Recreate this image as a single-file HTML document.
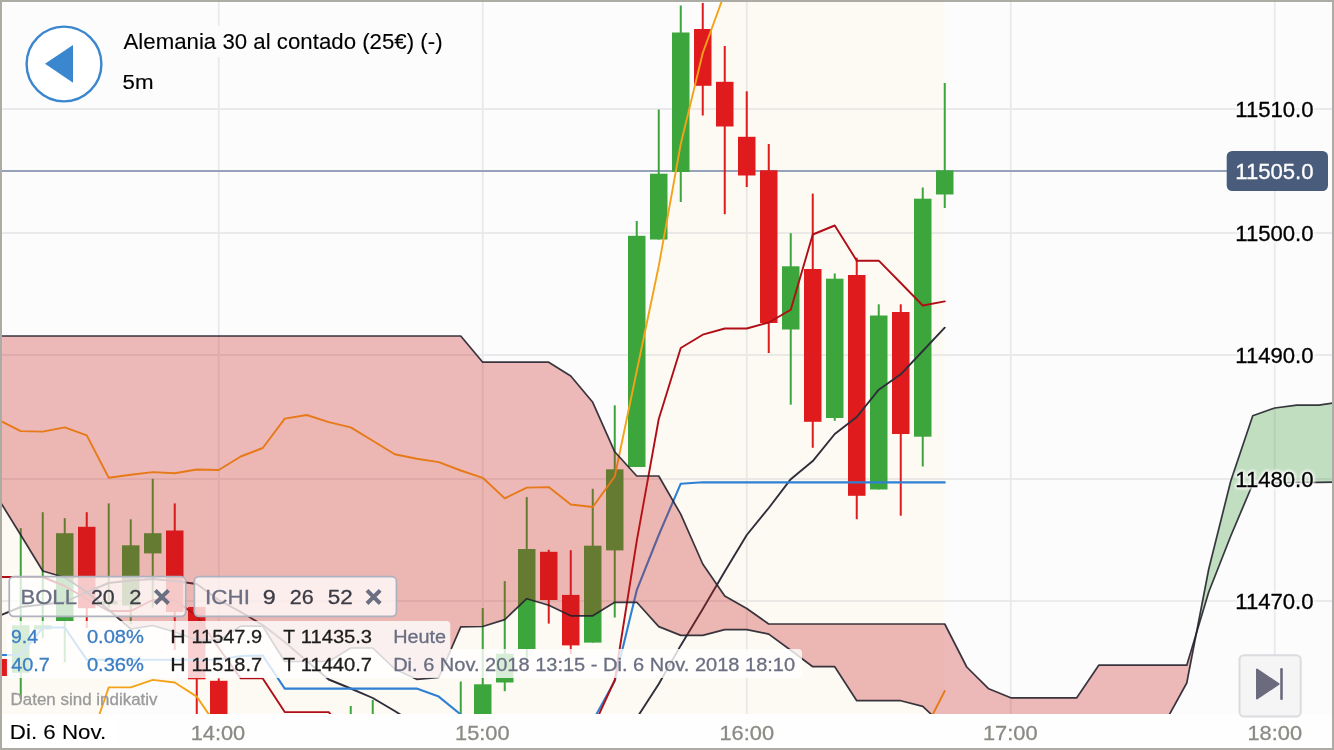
<!DOCTYPE html>
<html><head><meta charset="utf-8"><title>chart</title>
<style>
html,body{margin:0;padding:0;background:#fcfcfc;}
body{width:1334px;height:750px;overflow:hidden;position:relative;font-family:"Liberation Sans",sans-serif;}
svg{position:absolute;left:0;top:0;will-change:transform;}
text{font-family:"Liberation Sans",sans-serif;}
.halo{stroke:#fcfcfc;stroke-width:3.5px;stroke-linejoin:round;}
</style></head><body>
<svg width="1334" height="750" viewBox="0 0 1334 750">
<defs><clipPath id="cc"><rect x="0" y="0" width="1334" height="714"/></clipPath>
<filter id="glow" x="-10%" y="-40%" width="120%" height="180%"><feGaussianBlur stdDeviation="1.6"/></filter></defs>
<rect x="0" y="0" width="1334" height="750" fill="#fcfcfc"/>
<g clip-path="url(#cc)">
<path d="M2.5 748 V2.5 H1332" fill="none" stroke="#ffffff" stroke-width="1"/>
<polygon points="-1.25,420.00 20.75,431.10 42.75,431.60 64.75,427.40 86.75,435.40 108.75,477.70 130.75,474.80 152.75,472.10 174.75,473.20 196.75,469.50 218.75,470.00 240.75,456.50 262.75,448.00 284.75,418.60 306.75,415.00 328.75,422.10 350.75,427.40 372.75,440.80 394.75,454.20 416.75,458.70 438.75,462.10 460.75,470.50 482.75,477.80 504.75,498.40 526.75,487.60 548.75,487.10 570.75,504.50 592.75,507.00 614.75,476.50 636.75,371.00 658.75,266.00 680.75,144.00 702.75,53.00 724.75,-7.00 944.75,-7.00 944.75,691.00 922.75,734.00 218.75,729.00 196.75,696.60 174.75,682.50 152.75,679.90 130.75,687.40 108.75,687.40 86.75,751.00 -1.25,751.00" fill="#fdfaf4"/>
<g opacity="0.068" fill="#0a0a22">
<rect x="0" y="108" width="1334" height="2"/>
<rect x="0" y="232" width="1334" height="2"/>
<rect x="0" y="354" width="1334" height="2"/>
<rect x="0" y="478" width="1334" height="2"/>
<rect x="0" y="600" width="1334" height="2"/>
<rect x="217.75" y="0" width="2" height="714"/>
<rect x="481.75" y="0" width="2" height="714"/>
<rect x="745.75" y="0" width="2" height="714"/>
<rect x="1009.75" y="0" width="2" height="714"/>
<rect x="1273.75" y="0" width="2" height="714"/>
</g>
<rect x="0" y="170" width="1228" height="2" fill="#95a2ba"/>
<rect x="943.75" y="83" width="2" height="125.0" fill="#3ca53c"/>
<rect x="936.00" y="170.4" width="17.5" height="24.1" fill="#3ca53c"/>
<rect x="921.75" y="187.5" width="2" height="279.0" fill="#3ca53c"/>
<rect x="914.00" y="198.7" width="17.5" height="238.0" fill="#3ca53c"/>
<rect x="899.75" y="304.3" width="2" height="211.4" fill="#e01b1e"/>
<rect x="892.00" y="312" width="17.5" height="122.0" fill="#e01b1e"/>
<rect x="877.75" y="304.3" width="2" height="185.2" fill="#3ca53c"/>
<rect x="870.00" y="315.5" width="17.5" height="174.0" fill="#3ca53c"/>
<rect x="855.75" y="257.7" width="2" height="261.5" fill="#e01b1e"/>
<rect x="848.00" y="275" width="17.5" height="220.8" fill="#e01b1e"/>
<rect x="833.75" y="273.5" width="2" height="147.3" fill="#3ca53c"/>
<rect x="826.00" y="278.7" width="17.5" height="139.3" fill="#3ca53c"/>
<rect x="811.75" y="193.6" width="2" height="254.2" fill="#e01b1e"/>
<rect x="804.00" y="269" width="17.5" height="152.8" fill="#e01b1e"/>
<rect x="789.75" y="233.2" width="2" height="171.5" fill="#3ca53c"/>
<rect x="782.00" y="266.3" width="17.5" height="63.2" fill="#3ca53c"/>
<rect x="767.75" y="144" width="2" height="209.0" fill="#e01b1e"/>
<rect x="760.00" y="170.3" width="17.5" height="152.7" fill="#e01b1e"/>
<rect x="745.75" y="91.3" width="2" height="95.7" fill="#e01b1e"/>
<rect x="738.00" y="136.8" width="17.5" height="38.7" fill="#e01b1e"/>
<rect x="723.75" y="46" width="2" height="168.2" fill="#e01b1e"/>
<rect x="716.00" y="81.8" width="17.5" height="44.7" fill="#e01b1e"/>
<rect x="701.75" y="3" width="2" height="112.5" fill="#e01b1e"/>
<rect x="694.00" y="29" width="17.5" height="56.8" fill="#e01b1e"/>
<rect x="679.75" y="5.5" width="2" height="196.5" fill="#3ca53c"/>
<rect x="672.00" y="32.5" width="17.5" height="139.5" fill="#3ca53c"/>
<rect x="657.75" y="109.5" width="2" height="130.0" fill="#3ca53c"/>
<rect x="650.00" y="173.7" width="17.5" height="65.8" fill="#3ca53c"/>
<rect x="635.75" y="221" width="2" height="246.0" fill="#3ca53c"/>
<rect x="628.00" y="235.8" width="17.5" height="231.2" fill="#3ca53c"/>
<rect x="613.75" y="405.3" width="2" height="212.2" fill="#3ca53c"/>
<rect x="606.00" y="469.3" width="17.5" height="81.1" fill="#3ca53c"/>
<rect x="591.75" y="488.8" width="2" height="153.8" fill="#3ca53c"/>
<rect x="584.00" y="545.7" width="17.5" height="96.9" fill="#3ca53c"/>
<rect x="569.75" y="550.2" width="2" height="103.8" fill="#e01b1e"/>
<rect x="562.00" y="594.9" width="17.5" height="50.5" fill="#e01b1e"/>
<rect x="547.75" y="549.8" width="2" height="73.8" fill="#e01b1e"/>
<rect x="540.00" y="551.8" width="17.5" height="48.2" fill="#e01b1e"/>
<rect x="525.75" y="497.1" width="2" height="160.6" fill="#3ca53c"/>
<rect x="518.00" y="549" width="17.5" height="100.0" fill="#3ca53c"/>
<rect x="503.75" y="581.1" width="2" height="110.1" fill="#3ca53c"/>
<rect x="496.00" y="653.7" width="17.5" height="28.8" fill="#3ca53c"/>
<rect x="481.75" y="608.1" width="2" height="121.9" fill="#3ca53c"/>
<rect x="474.00" y="684.3" width="17.5" height="45.7" fill="#3ca53c"/>
<rect x="459.75" y="681.5" width="2" height="48.5" fill="#3ca53c"/>
<rect x="371.75" y="700" width="2" height="30.0" fill="#3ca53c"/>
<rect x="349.75" y="706" width="2" height="24.0" fill="#3ca53c"/>
<rect x="217.75" y="678.4" width="2" height="51.6" fill="#e01b1e"/>
<rect x="210.00" y="680.8" width="17.5" height="49.2" fill="#e01b1e"/>
<rect x="195.75" y="607" width="2" height="123.0" fill="#e01b1e"/>
<rect x="188.00" y="607" width="17.5" height="72.3" fill="#e01b1e"/>
<rect x="173.75" y="503.4" width="2" height="146.6" fill="#e01b1e"/>
<rect x="166.00" y="530.5" width="17.5" height="81.5" fill="#e01b1e"/>
<rect x="151.75" y="478.8" width="2" height="128.7" fill="#3ca53c"/>
<rect x="144.00" y="533.2" width="17.5" height="20.2" fill="#3ca53c"/>
<rect x="129.75" y="519.3" width="2" height="104.7" fill="#3ca53c"/>
<rect x="122.00" y="545.3" width="17.5" height="60.2" fill="#3ca53c"/>
<rect x="107.75" y="503.4" width="2" height="104.1" fill="#3ca53c"/>
<rect x="100.00" y="601" width="17.5" height="3.5" fill="#3ca53c"/>
<rect x="85.75" y="512.2" width="2" height="115.8" fill="#e01b1e"/>
<rect x="78.00" y="526.8" width="17.5" height="81.4" fill="#e01b1e"/>
<rect x="63.75" y="518.2" width="2" height="144.1" fill="#3ca53c"/>
<rect x="56.00" y="533.2" width="17.5" height="87.8" fill="#3ca53c"/>
<rect x="41.75" y="512.2" width="2" height="125.8" fill="#3ca53c"/>
<rect x="34.00" y="625.2" width="17.5" height="4.2" fill="#3ca53c"/>
<rect x="19.75" y="528.1" width="2" height="170.9" fill="#3ca53c"/>
<rect x="12.00" y="625.3" width="17.5" height="47.5" fill="#3ca53c"/>
<rect x="-2.25" y="640" width="2" height="50.0" fill="#e01b1e"/>
<rect x="-10.00" y="659" width="17.5" height="17.0" fill="#e01b1e"/>
<polyline points="-1.25,616.00 20.75,607.00 42.75,604.50 64.75,602.00 86.75,592.00 108.75,583.00 130.75,580.50 152.75,579.00 174.75,581.00 196.75,584.00 218.75,600.00 240.75,612.00 262.75,625.00 284.75,642.00 306.75,661.00 328.75,679.50 350.75,688.50 372.75,698.00 394.75,711.00 416.75,725.00 438.75,740.00 460.75,750.00 482.75,750.00 504.75,750.00 526.75,750.00 548.75,750.00 570.75,750.00 592.75,760.00 614.75,752.00 636.75,718.00 658.75,684.00 680.75,645.40 702.75,609.00 724.75,571.40 746.75,535.00 768.75,508.00 790.75,479.20 812.75,461.10 834.75,434.00 856.75,417.00 878.75,389.70 900.75,374.30 922.75,351.00 944.75,327.70" fill="none" stroke="#2e2e3a" stroke-width="1.9" stroke-linejoin="round" stroke-linecap="round" />
<polyline points="-1.25,655.00 20.75,655.00 42.75,627.50 64.75,627.50 86.75,659.70 108.75,659.70 130.75,659.70 152.75,659.70 174.75,659.70 196.75,659.70 218.75,659.50 240.75,656.00 262.75,655.50 284.75,688.60 306.75,688.60 328.75,688.60 350.75,688.60 372.75,688.60 394.75,688.60 416.75,688.60 438.75,696.60 460.75,714.50 482.75,735.00 504.75,740.00 526.75,740.00 548.75,740.00 570.75,740.00 592.75,721.00 614.75,681.00 636.75,590.20 658.75,535.00 680.75,483.70 702.75,482.30 724.75,482.40 746.75,482.40 768.75,482.40 790.75,482.40 812.75,482.40 834.75,482.40 856.75,482.40 878.75,482.40 900.75,482.40 922.75,482.40 944.75,482.40" fill="none" stroke="#2f80d2" stroke-width="2.1" stroke-linejoin="round" stroke-linecap="round" />
<polyline points="-1.25,577.00 20.75,577.00 42.75,577.00 64.75,586.00 86.75,599.00 108.75,611.00 130.75,611.00 152.75,600.00 174.75,600.00 196.75,616.00 218.75,648.00 240.75,678.40 262.75,678.40 284.75,712.10 306.75,712.10 328.75,712.10 350.75,740.00 372.75,750.00 394.75,750.00 416.75,750.00 438.75,750.00 460.75,750.00 482.75,750.00 504.75,750.00 526.75,750.00 548.75,750.00 570.75,750.00 592.75,728.00 614.75,680.00 636.75,541.00 658.75,419.00 680.75,348.00 702.75,334.70 724.75,328.50 746.75,328.50 768.75,322.50 790.75,309.70 812.75,234.50 834.75,225.50 856.75,260.70 878.75,260.70 900.75,283.00 922.75,305.50 944.75,301.40" fill="none" stroke="#b00e16" stroke-width="1.9" stroke-linejoin="round" stroke-linecap="round" />
<polyline points="-1.25,420.00 20.75,431.10 42.75,431.60 64.75,427.40 86.75,435.40 108.75,477.70 130.75,474.80 152.75,472.10 174.75,473.20 196.75,469.50 218.75,470.00 240.75,456.50 262.75,448.00 284.75,418.60 306.75,415.00 328.75,422.10 350.75,427.40 372.75,440.80 394.75,454.20 416.75,458.70 438.75,462.10 460.75,470.50 482.75,477.80 504.75,498.40 526.75,487.60 548.75,487.10 570.75,504.50 592.75,507.00 614.75,476.50 636.75,371.00 658.75,266.00 680.75,144.00 702.75,53.00 724.75,-7.00" fill="none" stroke="#f4a318" stroke-width="1.9" stroke-linejoin="round" stroke-linecap="round" />
<polyline points="86.75,751.00 108.75,687.40 130.75,687.40 152.75,679.90 174.75,682.50 196.75,696.60 218.75,729.00" fill="none" stroke="#f4a318" stroke-width="1.9" stroke-linejoin="round" stroke-linecap="round" />
<polyline points="922.75,734.00 944.75,691.00" fill="none" stroke="#f4a318" stroke-width="1.9" stroke-linejoin="round" stroke-linecap="round" />
<polygon points="-1.25,336.00 20.75,336.00 42.75,336.00 64.75,336.00 86.75,336.00 108.75,336.00 130.75,336.00 152.75,336.00 174.75,336.00 196.75,336.00 218.75,336.00 240.75,336.00 262.75,336.00 284.75,336.00 306.75,336.00 328.75,336.00 350.75,336.00 372.75,336.00 394.75,336.00 416.75,336.00 438.75,336.00 460.75,336.00 482.75,362.20 504.75,362.20 526.75,362.20 548.75,362.20 570.75,376.00 592.75,402.30 614.75,451.80 636.75,476.00 658.75,476.00 680.75,514.20 702.75,564.00 724.75,596.00 746.75,608.50 768.75,624.00 790.75,624.00 812.75,624.00 834.75,624.00 856.75,624.00 878.75,624.00 900.75,624.00 922.75,624.00 944.75,624.00 966.75,667.00 988.75,688.80 1010.75,697.80 1032.75,697.80 1054.75,697.80 1076.75,697.80 1098.75,665.20 1120.75,665.20 1142.75,665.20 1164.75,665.20 1186.75,665.20 1196.35,633.26 1186.75,683.00 1164.75,723.00 1142.75,760.00 1120.75,750.00 1098.75,750.00 1076.75,750.00 1054.75,750.00 1032.75,750.00 1010.75,750.00 988.75,750.00 966.75,745.00 944.75,727.00 922.75,706.40 900.75,700.70 878.75,700.70 856.75,700.70 834.75,666.70 812.75,666.70 790.75,650.30 768.75,634.10 746.75,629.60 724.75,629.60 702.75,635.40 680.75,635.40 658.75,626.60 636.75,602.30 614.75,602.30 592.75,615.80 570.75,615.80 548.75,605.20 526.75,598.70 504.75,619.60 482.75,626.50 460.75,626.80 438.75,677.50 416.75,679.30 394.75,669.00 372.75,648.00 350.75,648.00 328.75,661.50 306.75,661.50 284.75,661.50 262.75,626.20 240.75,626.20 218.75,640.00 196.75,640.00 174.75,632.00 152.75,625.50 130.75,629.00 108.75,610.00 86.75,592.00 64.75,577.50 42.75,571.00 20.75,535.00 -1.25,499.40" fill="#c71a1a" fill-opacity="0.30"/>
<polygon points="1196.35,633.26 1208.75,569.00 1230.75,481.00 1252.75,415.70 1274.75,408.00 1296.75,405.20 1318.75,405.20 1340.75,402.00 1340.75,482.00 1318.75,482.30 1296.75,482.50 1274.75,483.00 1252.75,484.00 1230.75,536.00 1208.75,592.00" fill="#379834" fill-opacity="0.30"/>
<polyline points="-1.25,336.00 20.75,336.00 42.75,336.00 64.75,336.00 86.75,336.00 108.75,336.00 130.75,336.00 152.75,336.00 174.75,336.00 196.75,336.00 218.75,336.00 240.75,336.00 262.75,336.00 284.75,336.00 306.75,336.00 328.75,336.00 350.75,336.00 372.75,336.00 394.75,336.00 416.75,336.00 438.75,336.00 460.75,336.00 482.75,362.20 504.75,362.20 526.75,362.20 548.75,362.20 570.75,376.00 592.75,402.30 614.75,451.80 636.75,476.00 658.75,476.00 680.75,514.20 702.75,564.00 724.75,596.00 746.75,608.50 768.75,624.00 790.75,624.00 812.75,624.00 834.75,624.00 856.75,624.00 878.75,624.00 900.75,624.00 922.75,624.00 944.75,624.00 966.75,667.00 988.75,688.80 1010.75,697.80 1032.75,697.80 1054.75,697.80 1076.75,697.80 1098.75,665.20 1120.75,665.20 1142.75,665.20 1164.75,665.20 1186.75,665.20 1208.75,592.00 1230.75,536.00 1252.75,484.00 1274.75,483.00 1296.75,482.50 1318.75,482.30 1340.75,482.00" fill="none" stroke="#24222c" stroke-width="1.7" stroke-linejoin="round" stroke-linecap="round" stroke-opacity="0.9"/>
<polyline points="-1.25,499.40 20.75,535.00 42.75,571.00 64.75,577.50 86.75,592.00 108.75,610.00 130.75,629.00 152.75,625.50 174.75,632.00 196.75,640.00 218.75,640.00 240.75,626.20 262.75,626.20 284.75,661.50 306.75,661.50 328.75,661.50 350.75,648.00 372.75,648.00 394.75,669.00 416.75,679.30 438.75,677.50 460.75,626.80 482.75,626.50 504.75,619.60 526.75,598.70 548.75,605.20 570.75,615.80 592.75,615.80 614.75,602.30 636.75,602.30 658.75,626.60 680.75,635.40 702.75,635.40 724.75,629.60 746.75,629.60 768.75,634.10 790.75,650.30 812.75,666.70 834.75,666.70 856.75,700.70 878.75,700.70 900.75,700.70 922.75,706.40 944.75,727.00 966.75,745.00 988.75,750.00 1010.75,750.00 1032.75,750.00 1054.75,750.00 1076.75,750.00 1098.75,750.00 1120.75,750.00 1142.75,760.00 1164.75,723.00 1186.75,683.00 1208.75,569.00 1230.75,481.00 1252.75,415.70 1274.75,408.00 1296.75,405.20 1318.75,405.20 1340.75,402.00" fill="none" stroke="#24222c" stroke-width="1.7" stroke-linejoin="round" stroke-linecap="round" stroke-opacity="0.9"/>
</g>
<rect x="120" y="26" width="326" height="31" fill="#fcfcfc"/>
<circle cx="64" cy="64" r="37.4" fill="#ffffff" stroke="#3a86cf" stroke-width="2.4"/>
<polygon points="45,63.8 73,45 73,82.8" fill="#3a86cf"/>
<text transform="translate(123.49,48.80) scale(1.0026,1)" font-size="22.2" fill="#000" stroke="#000" stroke-width="0.12" >Alemania 30 al contado (25€) (-)</text>
<text transform="translate(122.53,88.70) scale(1.0626,1)" font-size="21" fill="#000" stroke="#000" stroke-width="0.15" >5m</text>
<rect x="9.25" y="576.65" width="176.4" height="39.8" rx="4.6" fill="#fff" fill-opacity="0.76" stroke="#aeb1be" stroke-width="1.7"/>
<rect x="194.35" y="576.65" width="202.1" height="39.8" rx="4.6" fill="#fff" fill-opacity="0.76" stroke="#aeb1be" stroke-width="1.7"/>
<text transform="translate(20.43,603.60) scale(1.0629,1)" font-size="20.8" fill="#6b6f82" stroke="#6b6f82" stroke-width="0.3" >BOLL</text>
<text transform="translate(90.91,603.60) scale(1.0306,1)" font-size="20.8" fill="#3b3b46" stroke="#3b3b46" stroke-width="0.3" >20</text>
<text transform="translate(129.16,603.60) scale(1.0615,1)" font-size="20.8" fill="#3b3b46" stroke="#3b3b46" stroke-width="0.3" >2</text>
<path d="M155.3 590.3 L168.5 603.5 M168.5 590.3 L155.3 603.5" stroke="#6b6f82" stroke-width="4" fill="none"/>
<text transform="translate(205.09,603.60) scale(1.0800,1)" font-size="20.8" fill="#6b6f82" stroke="#6b6f82" stroke-width="0.3" >ICHI</text>
<text transform="translate(262.87,603.60) scale(1.1184,1)" font-size="20.8" fill="#3b3b46" stroke="#3b3b46" stroke-width="0.3" >9</text>
<text transform="translate(289.73,603.60) scale(1.0358,1)" font-size="20.8" fill="#3b3b46" stroke="#3b3b46" stroke-width="0.3" >26</text>
<text transform="translate(327.69,603.60) scale(1.0796,1)" font-size="20.8" fill="#3b3b46" stroke="#3b3b46" stroke-width="0.3" >52</text>
<path d="M367 590.3 L380.2 603.5 M380.2 590.3 L367 603.5" stroke="#6b6f82" stroke-width="4" fill="none"/>
<path d="M6.9 621 H446.3 a4 4 0 0 1 4 4 V649 H6.9 Z" fill="#fff" fill-opacity="0.8"/>
<path d="M6.9 649 H798 a4 4 0 0 1 4 4 V674 a4 4 0 0 1 -4 4 H6.9 Z" fill="#fff" fill-opacity="0.8"/>
<text transform="translate(10.95,642.70) scale(1.0455,1)" font-size="18.6" fill="#3a7ec4" stroke="#3a7ec4" stroke-width="0.3" >9.4</text>
<text transform="translate(86.89,642.70) scale(1.0822,1)" font-size="18.6" fill="#3a7ec4" stroke="#3a7ec4" stroke-width="0.3" >0.08%</text>
<text transform="translate(170.29,642.70) scale(1.1470,1)" font-size="18.6" fill="#1c1c1c" stroke="#1c1c1c" stroke-width="0.3" >H</text>
<text transform="translate(191.44,642.70) scale(1.0733,1)" font-size="18.6" fill="#1c1c1c" stroke="#1c1c1c" stroke-width="0.3" >11547.9</text>
<text transform="translate(283.17,642.70) scale(1.0388,1)" font-size="18.6" fill="#1c1c1c" stroke="#1c1c1c" stroke-width="0.3" >T</text>
<text transform="translate(300.78,642.70) scale(1.0834,1)" font-size="18.6" fill="#1c1c1c" stroke="#1c1c1c" stroke-width="0.3" >11435.3</text>
<text transform="translate(393.21,642.70) scale(1.0673,1)" font-size="18.6" fill="#6b6f82" stroke="#6b6f82" stroke-width="0.3" >Heute</text>
<text transform="translate(11.23,670.80) scale(1.0695,1)" font-size="18.6" fill="#3a7ec4" stroke="#3a7ec4" stroke-width="0.3" >40.7</text>
<text transform="translate(86.89,670.80) scale(1.0822,1)" font-size="18.6" fill="#3a7ec4" stroke="#3a7ec4" stroke-width="0.3" >0.36%</text>
<text transform="translate(170.29,670.80) scale(1.1470,1)" font-size="18.6" fill="#1c1c1c" stroke="#1c1c1c" stroke-width="0.3" >H</text>
<text transform="translate(191.44,670.80) scale(1.0730,1)" font-size="18.6" fill="#1c1c1c" stroke="#1c1c1c" stroke-width="0.3" >11518.7</text>
<text transform="translate(283.17,670.80) scale(1.0388,1)" font-size="18.6" fill="#1c1c1c" stroke="#1c1c1c" stroke-width="0.3" >T</text>
<text transform="translate(300.78,670.80) scale(1.0820,1)" font-size="18.6" fill="#1c1c1c" stroke="#1c1c1c" stroke-width="0.3" >11440.7</text>
<text transform="translate(393.16,670.80) scale(1.0767,1)" font-size="18.6" fill="#6b6f82" stroke="#6b6f82" stroke-width="0.3" >Di. 6 Nov. 2018 13:15 - Di. 6 Nov. 2018 18:10</text>
<text transform="translate(10.52,704.70) scale(1.0465,1)" font-size="16.2" fill="#9a9a9a" stroke="#9a9a9a" stroke-width="0.3" >Daten sind indikativ</text>
<rect x="0" y="714" width="1334" height="36" fill="#fefefe"/>
<rect x="0" y="714" width="118" height="36" fill="#ffffff"/>
<text transform="translate(9.87,739.40) scale(1.0941,1)" font-size="20.4" fill="#000" stroke="#000" stroke-width="0.12" >Di. 6 Nov.</text>
<text transform="translate(190.70,739.70) scale(1.0585,1)" font-size="20.6" fill="#8b8b85" stroke="#8b8b85" stroke-width="0.3" >14:00</text>
<text transform="translate(455.02,739.70) scale(1.0582,1)" font-size="20.6" fill="#8b8b85" stroke="#8b8b85" stroke-width="0.3" >15:00</text>
<text transform="translate(719.45,739.70) scale(1.0596,1)" font-size="20.6" fill="#8b8b85" stroke="#8b8b85" stroke-width="0.3" >16:00</text>
<text transform="translate(982.98,739.70) scale(1.0600,1)" font-size="20.6" fill="#8b8b85" stroke="#8b8b85" stroke-width="0.3" >17:00</text>
<text transform="translate(1247.45,739.70) scale(1.0596,1)" font-size="20.6" fill="#8b8b85" stroke="#8b8b85" stroke-width="0.3" >18:00</text>
<text class="halo" transform="translate(1235.22,116.80) scale(1.0393,1)" font-size="21.3" fill="#fcfcfc"  filter="url(#glow)">11510.0</text>
<text transform="translate(1235.22,116.80) scale(1.0393,1)" font-size="21.3" fill="#000" stroke="#000" stroke-width="0.3" >11510.0</text>
<text class="halo" transform="translate(1235.22,240.80) scale(1.0393,1)" font-size="21.3" fill="#fcfcfc"  filter="url(#glow)">11500.0</text>
<text transform="translate(1235.22,240.80) scale(1.0393,1)" font-size="21.3" fill="#000" stroke="#000" stroke-width="0.3" >11500.0</text>
<text class="halo" transform="translate(1235.22,362.80) scale(1.0393,1)" font-size="21.3" fill="#fcfcfc"  filter="url(#glow)">11490.0</text>
<text transform="translate(1235.22,362.80) scale(1.0393,1)" font-size="21.3" fill="#000" stroke="#000" stroke-width="0.3" >11490.0</text>
<text class="halo" transform="translate(1235.22,486.80) scale(1.0393,1)" font-size="21.3" fill="#fcfcfc"  filter="url(#glow)">11480.0</text>
<text transform="translate(1235.22,486.80) scale(1.0393,1)" font-size="21.3" fill="#000" stroke="#000" stroke-width="0.3" >11480.0</text>
<text class="halo" transform="translate(1235.22,608.80) scale(1.0393,1)" font-size="21.3" fill="#fcfcfc"  filter="url(#glow)">11470.0</text>
<text transform="translate(1235.22,608.80) scale(1.0393,1)" font-size="21.3" fill="#000" stroke="#000" stroke-width="0.3" >11470.0</text>
<rect x="1226.7" y="151" width="101.3" height="40" rx="5.5" fill="#4a5c7b"/>
<text transform="translate(1235.22,178.80) scale(1.0393,1)" font-size="21.3" fill="#fff" stroke="#fff" stroke-width="0.3" >11505.0</text>
<rect x="1239.5" y="655.2" width="61.2" height="61.4" rx="4.5" fill="#f5f5f6" stroke="#dcdce0" stroke-width="2"/>
<path d="M1257 669.6 L1278.6 684 L1257 698.4 Z" fill="#6b6b7d" stroke="#6b6b7d" stroke-width="2" stroke-linejoin="round"/>
<rect x="1280.2" y="668" width="2.6" height="32" rx="1.2" fill="#6b6b7d"/>
<rect x="1" y="1" width="1332" height="748" fill="none" stroke="#acaca5" stroke-width="2"/>
</svg>
</body></html>
